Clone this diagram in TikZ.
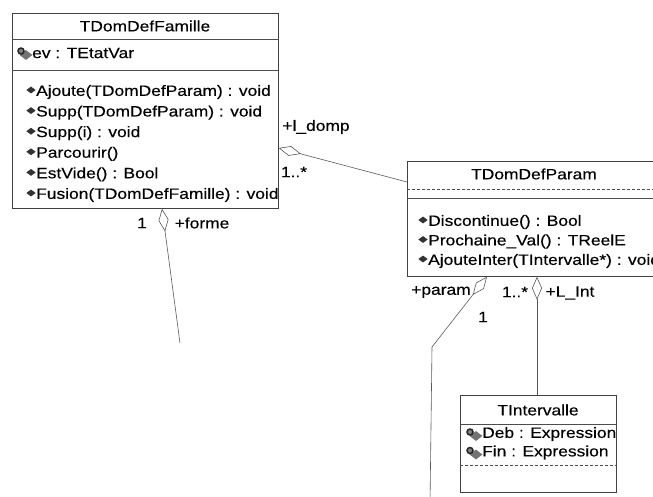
\documentclass[tikz,border=0pt]{standalone}
\usepackage{fontspec}
\setmainfont{Liberation Sans}[FakeStretch=1.16, FakeBold=0.3]
\usetikzlibrary{arrows.meta,shapes.geometric}

\tikzset{
  classe/.style={draw=black!75, line width=0.7pt, anchor=north west, inner sep=0pt},
  sep/.style={draw=black!70, line width=0.6pt},
  titre/.style={inner sep=0pt, font=\fontsize{15}{18}\selectfont},
  membre/.style={anchor=west, inner sep=0pt, font=\fontsize{15}{18}\selectfont},
  role/.style={inner sep=0pt, font=\fontsize{15}{18}\selectfont},
  methico/.style={diamond, fill=black!80, inner sep=0pt, minimum width=9.5pt, minimum height=7pt},
  attrico/.style={diamond, fill=black!55, inner sep=0pt, minimum width=13pt, minimum height=10pt},
  verrou/.style={circle, draw=black!85, fill=black!50, line width=1.5pt, inner sep=0pt, minimum size=6pt},
  assoc/.style={draw=black!65, line width=0.6pt},
  agreg/.style={assoc, {Diamond[open, length=23pt, width=10pt]}-},
}

\begin{document}
\begin{tikzpicture}[x=1pt, y=-1pt]
\useasboundingbox (0,0) rectangle (653,496);
\clip (0,0) rectangle (653,496);

% classe TDomDefFamille
\node[classe, minimum width=266pt, minimum height=195pt] (famille) at (12,13) {};
\draw[sep] (12,39) -- (278,39);
\draw[sep] (12,70) -- (278,70);
\node[titre] (familleT) at (145,26) {TDomDefFamille};
\node[attrico] (famAttrI) at (26,55) {};
\node[verrou] at (21,51) {};
\node[membre] (famAttr) at (32,53) {ev : TEtatVar};
\foreach \i/\txt in {0/Ajoute(TDomDefParam) : void, 1/Supp(TDomDefParam) : void,
    2/Supp(i) : void, 3/Parcourir(), 4/EstVide() : Bool, 5/Fusion(TDomDefFamille) : void} {
  \node[methico] (famMI\i) at (31,{90+20.6*\i}) {};
  \node[membre] (famM\i) at (36,{92+20.6*\i}) {\txt};
}

% classe TDomDefParam
\node[classe, minimum width=254pt, minimum height=115pt] (param) at (407,161) {};
\draw[sep, densely dashed] (407,189) -- (661,189);
\draw[sep] (407,198) -- (661,198);
\node[titre] (paramT) at (534,174) {TDomDefParam};
\foreach \i/\txt in {0/Discontinue() : Bool, 1/Prochaine\_Val() : TReelE,
    2/AjouteInter(TIntervalle*) : void} {
  \node[methico] (parMI\i) at (423,{220+19.5*\i}) {};
  \node[membre] (parM\i) at (428,{222+19.5*\i}) {\txt};
}

% classe TIntervalle
\node[classe, minimum width=156pt, minimum height=97pt] (inter) at (460,395) {};
\draw[sep] (460,424) -- (616,424);
\draw[sep, densely dashed] (460,465) -- (616,465);
\node[titre] (interT) at (538,410) {TIntervalle};
\foreach \i/\txt in {0/Deb : Expression, 1/Fin : Expression} {
  \node[attrico] (intAI\i) at (476,{436+18.5*\i}) {};
  \node[verrou] at (470,{432+18.5*\i}) {};
  \node[membre] (intA\i) at (482,{434+18.5*\i}) {\txt};
}

% extremites libres
\coordinate (formeFin) at (180,343);
\coordinate (paramCoude) at (432,347);
\coordinate (paramFin) at (430,505);

% associations
\draw[agreg] ([yshift=-135pt]famille.north east) -- ([yshift=-21pt]param.north west);
\draw[agreg] ([xshift=150pt]famille.south west) -- (formeFin);
\draw[agreg] ([xshift=80pt]param.south west) -- (paramCoude) -- (paramFin);
\draw[agreg] ([xshift=130pt]param.south west) -- ([xshift=77pt]inter.north west);

% roles et multiplicites
\node[role] (rDomp) at (316,127) {+l\_domp};
\node[role] (mDomp) at (294,172) {1..*};
\node[role] (mForme) at (142,223) {1};
\node[role] (rForme) at (202,223) {+forme};
\node[role] (rParam) at (441,292) {+param};
\node[role] (mParam) at (483,317) {1};
\node[role] (mInt) at (515,292) {1..*};
\node[role] (rInt) at (570,293) {+L\_Int};
\end{tikzpicture}
\end{document}
